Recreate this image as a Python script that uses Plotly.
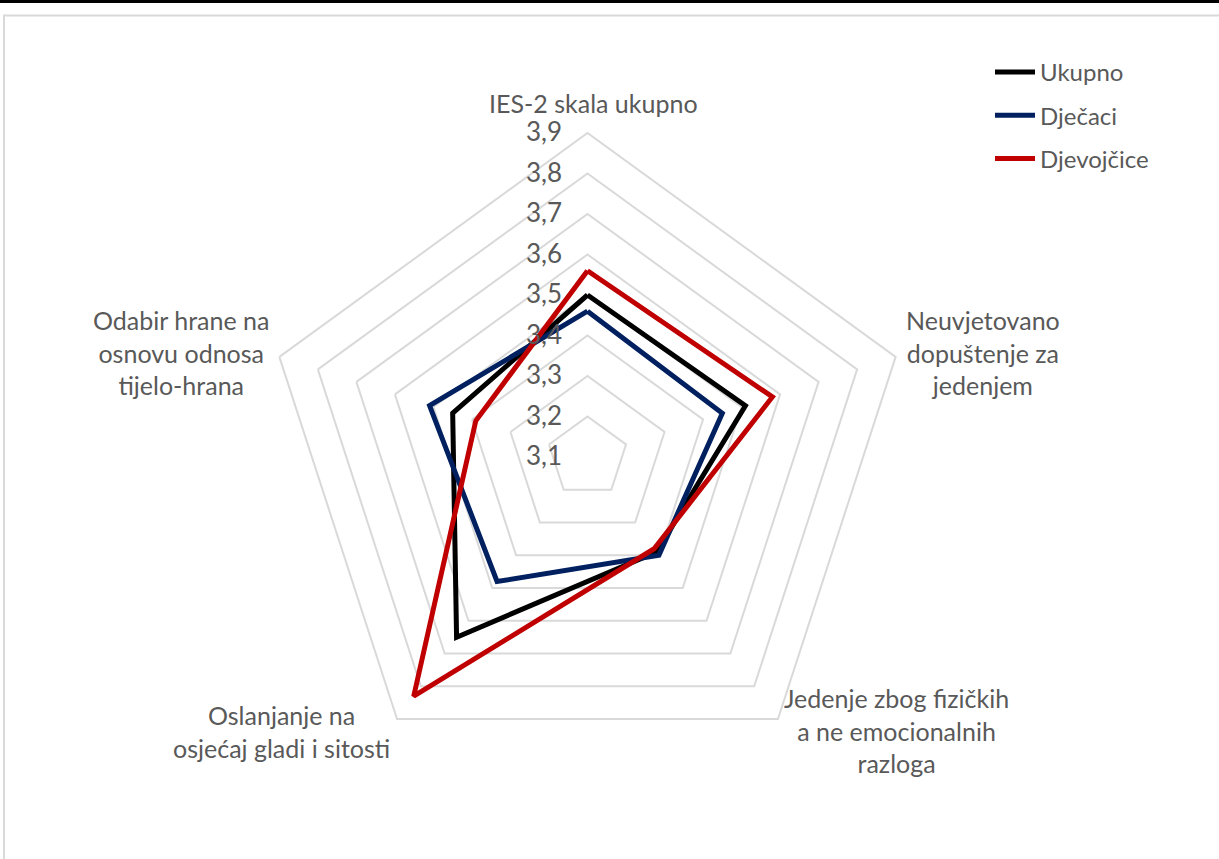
import plotly.graph_objects as go

categories = [
    "IES-2 skala ukupno",
    "Neuvjetovano<br>dopuštenje za<br>jedenjem",
    "Jedenje zbog fizičkih<br>a ne emocionalnih<br>razloga",
    "Oslanjanje na<br>osjećaj gladi i sitosti",
    "Odabir hrane na<br>osnovu odnosa<br>tijelo-hrana",
]
ukupno = [3.50, 3.51, 3.39, 3.65, 3.45]
djecaci = [3.46, 3.45, 3.40, 3.48, 3.51]
djevojcice = [3.56, 3.58, 3.38, 3.83, 3.39]

series = [
    ("Ukupno", ukupno, "#000000"),
    ("Dječaci", djecaci, "#002060"),
    ("Djevojčice", djevojcice, "#C00000"),
]

# label centres (pixels) for the category labels
label_pos = [(593, 103), (983, 352), (896, 730), (281, 731), (181, 352)]

W, H = 1219, 859
FONT = "Lato"
GRAY = "#595959"
GRID = "#D9D9D9"

fig = go.Figure()
for name, vals, col in series:
    fig.add_trace(go.Scatterpolar(
        r=vals + vals[:1],
        theta=categories + categories[:1],
        mode="lines",
        name=name,
        legendgroup=name,
        line=dict(color=col, width=5),
    ))

annotations = []
for cat, (px, py) in zip(categories, label_pos):
    annotations.append(dict(
        text=cat, xref="paper", yref="paper",
        x=px / W, y=1 - py / H, xanchor="center", yanchor="middle",
        align="center", showarrow=False,
        font=dict(family=FONT, size=25, color=GRAY),
    ))

cx, cy, R = 587.5, 457.0, 324.0
fig.update_layout(
    width=W, height=H,
    margin=dict(l=0, r=0, t=0, b=0),
    paper_bgcolor="white",
    separators=", ",
    font=dict(family=FONT, color=GRAY),
    polar=dict(
        domain=dict(x=[(cx - R) / W, (cx + R) / W],
                    y=[(H - cy - R) / H, (H - cy + R) / H]),
        bgcolor="white",
        gridshape="linear",
        radialaxis=dict(
            range=[3.1, 3.9], tick0=3.1, dtick=0.1, tickformat=".1f",
            ticksuffix="\u2003\u200a",
            angle=90, tickangle=90, side="counterclockwise",
            showline=False, ticks="",
            gridcolor=GRID, gridwidth=2,
            tickfont=dict(family=FONT, size=26, color=GRAY),
        ),
        angularaxis=dict(
            direction="clockwise", rotation=90,
            showgrid=False, showline=True, linecolor=GRID, linewidth=2,
            ticks="", showticklabels=False,
        ),
    ),
    legend=dict(
        x=990 / W, y=1 - 50 / H, xanchor="left", yanchor="top",
        font=dict(family=FONT, size=24, color=GRAY),
        itemwidth=40, tracegroupgap=9,
        bgcolor="rgba(0,0,0,0)",
    ),
    annotations=annotations,
    shapes=[
        dict(type="rect", xref="paper", yref="paper",
             x0=-0.01, x1=1.01, y0=1 - 3 / H, y1=1.01,
             fillcolor="black", line=dict(width=0)),
        dict(type="rect", xref="paper", yref="paper",
             x0=4 / W, x1=1.05, y0=-0.05, y1=1 - 15.5 / H,
             fillcolor="rgba(0,0,0,0)", line=dict(color=GRID, width=2)),
    ],
)

fig.write_html(
    "out.html",
    config={"displayModeBar": False},
    post_script="document.body.style.margin='0';document.body.style.overflow='hidden';",
)
